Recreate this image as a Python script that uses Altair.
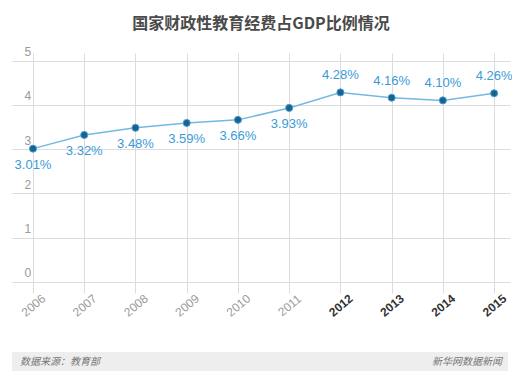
import altair as alt
import pandas as pd

years = [2006, 2007, 2008, 2009, 2010, 2011, 2012, 2013, 2014, 2015]
values = [3.01, 3.32, 3.48, 3.59, 3.66, 3.93, 4.28, 4.16, 4.10, 4.26]
labels = ["3.01%", "3.32%", "3.48%", "3.59%", "3.66%", "3.93%", "4.28%", "4.16%", "4.10%", "4.26%"]
y_ticks = [0, 1, 2, 3, 4, 5]

title_text = "国家财政性教育经费占GDP比例情况"
source_text = "数据来源：教育部"
brand_text = "新华网数据新闻"

df = pd.DataFrame({"year": years, "value": values, "label": labels})

FONT = "Noto Sans CJK SC"
NUM = "Liberation Sans"
W, H = 498, 240

x = alt.X(
    "year:Q",
    scale=alt.Scale(domain=[2005.59, 2015.31], nice=False, zero=False),
    axis=alt.Axis(
        values=years, format="d", title=None, domain=False, ticks=False,
        grid=True, gridColor="#dcdcdc", gridWidth=1,
        labelAngle=-40, labelAlign="center", labelBaseline="middle",
        labelPadding=12, labelFontSize=12, labelFont=NUM,
        labelColor=alt.expr("datum.value >= 2012 ? '#333333' : '#9a9a9a'"),
        labelFontWeight=alt.expr("datum.value >= 2012 ? 'bold' : 'normal'"),
    ),
)
y = alt.Y(
    "value:Q",
    scale=alt.Scale(domain=[-0.25, 5.17], nice=False, zero=False),
    axis=alt.Axis(
        values=y_ticks, title=None, domain=False, ticks=False,
        grid=True, gridColor="#dcdcdc", gridWidth=1,
        labelAlign="left", labelBaseline="bottom", labelPadding=-12,
        labelOffset=-2, labelFontSize=12, labelColor="#9a9a9a", labelFont=NUM,
    ),
)

base = alt.Chart(df)

line = base.mark_line(color="#74b9e0", strokeWidth=1.5).encode(x=x, y=y)
points = base.mark_point(filled=True, size=50, color="#17628f", stroke="#4c9fd0",
                         strokeWidth=1, opacity=1).encode(x="year:Q", y="value:Q")

text_style = dict(color="#3a9ad8", fontSize=13, font=NUM)
below = base.transform_filter("datum.year < 2012").mark_text(
    dy=16, **text_style).encode(x="year:Q", y="value:Q", text="label:N")
above = base.transform_filter("datum.year >= 2012").mark_text(
    dy=-17, **text_style).encode(x="year:Q", y="value:Q", text="label:N")

foot = pd.DataFrame({"a": [0]})
band = alt.Chart(foot).mark_rect(color="#eeeeee").encode(
    x=alt.value(0), x2=alt.value(496), y=alt.value(299), y2=alt.value(318))
src = alt.Chart(foot).mark_text(
    text=source_text, align="left", baseline="middle", fontSize=10,
    fontStyle="italic", color="#777777", font=FONT).encode(
    x=alt.value(8), y=alt.value(309))
brand = alt.Chart(foot).mark_text(
    text=brand_text, align="right", baseline="middle", fontSize=10,
    fontStyle="italic", color="#777777", font=FONT).encode(
    x=alt.value(490), y=alt.value(309))

chart = alt.layer(line, points, below, above, band, src, brand).properties(
    width=W, height=H,
    title=alt.TitleParams(title_text, anchor="middle", fontSize=16, font=FONT,
                          fontWeight="bold", color="#4a4a4a", offset=14),
    autosize=alt.AutoSizeParams(type="none"),
    padding={"left": 4, "top": 45, "right": 2, "bottom": 81},
).configure_view(stroke=None)

chart.save("out.html", embed_options={"renderer": "svg", "actions": False})
